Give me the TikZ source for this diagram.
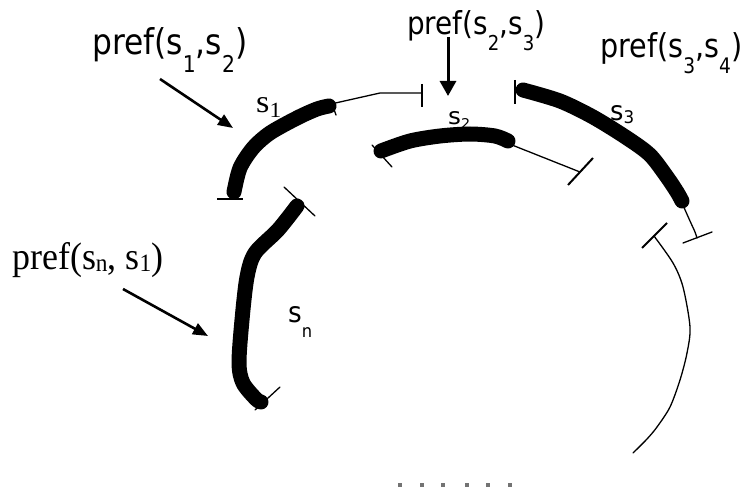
\documentclass[tikz,border=0pt]{standalone}
\usepackage{fontspec}
\setmainfont{Liberation Serif}
\newfontfamily\sansf{DejaVu Sans}
\newfontfamily\serf{Liberation Serif}
\usetikzlibrary{arrows.meta}
\newcommand\lsub[3]{\raisebox{-#1}{\fontsize{#2}{#2}\selectfont #3}}
\begin{document}
\begin{tikzpicture}[x=1pt,y=-1pt,
  segstroke/.style={line width=15pt, line cap=round, line join=round},
  thinline/.style={line width=1.3pt, line cap=round, line join=round},
  barline/.style={line width=2pt},
  pointer/.style={line width=2.6pt, -{Triangle[length=15pt,width=12pt]}},
  lab/.style={inner sep=0pt, anchor=base west}]
\useasboundingbox (0,0) rectangle (747,494);

% labels
\node[lab] (l12) at (92,55) {\resizebox{155pt}{27pt}{\sansf\fontsize{10}{12}\selectfont pref(s\lsub{4.8pt}{6.5}{1},s\lsub{4.8pt}{6.5}{2})}};
\node[lab] (l23) at (407,35) {\resizebox{138pt}{24pt}{\sansf\fontsize{10}{12}\selectfont pref(s\lsub{4.8pt}{6.5}{2},s\lsub{4.8pt}{6.5}{3})}};
\node[lab] (l34) at (600,58) {\resizebox{142pt}{25pt}{\sansf\fontsize{10}{12}\selectfont pref(s\lsub{4.8pt}{6.5}{3},s\lsub{4.8pt}{6.5}{4})}};
\node[lab] (ln1) at (12,270) {\resizebox{151pt}{27pt}{\serf\fontsize{10}{12}\selectfont pref(s\lsub{0.5pt}{6.5}{n}, s\lsub{0.5pt}{6.5}{1})}};

\node[lab] (s1) at (256,113) {\resizebox{25pt}{15pt}{\serf\fontsize{10}{12}\selectfont s\lsub{1.5pt}{6.8}{1}}};
\node[lab] (s2) at (448,125) {\resizebox{22pt}{13pt}{\sansf\fontsize{10}{12}\selectfont s\lsub{1.3pt}{5.8}{2}}};
\node[lab] (s3) at (610,121) {\resizebox{24pt}{15pt}{\sansf\fontsize{10}{12}\selectfont s\lsub{1pt}{6.5}{3}}};
\node[lab] (sn) at (288,323) {\resizebox{24pt}{16pt}{\sansf\fontsize{10}{12}\selectfont s\lsub{5.1pt}{6.2}{n}}};

% pointer arrows
\coordinate (a1s) at (160,79);  \coordinate (a1e) at (233,128);
\coordinate (a2s) at (448,37);  \coordinate (a2e) at (448,96);
\coordinate (a3s) at (123,289); \coordinate (a3e) at (208,336);
\draw[pointer] (a1s) -- (a1e);
\draw[pointer, line width=3pt, -{Triangle[length=15pt,width=16pt]}] (a2s) -- (a2e);
\draw[pointer] (a3s) -- (a3e);

% s1
\draw[segstroke] plot[smooth] coordinates {(234,192) (240,168) (253,148) (270,133) (297,118) (317,109) (329,106)};
\draw[barline] (217,199) -- (243,199);
\draw[thinline] (331,101) -- (336,115);
\draw[thinline] (331,104) -- (380,93) -- (422,93);
\draw[barline] (422,84) -- (422,107);

% s2
\draw[segstroke] plot[smooth] coordinates {(381,151) (410,141) (440,136) (470,134) (495,136) (508,141)};
\draw[thinline] (372,145) -- (392,167);
\draw[thinline] (512,145) -- (580,172);
\draw[barline] (568,185) -- (593,158);

% s3
\draw[barline] (515,80) -- (515,104);
\draw[segstroke] plot[smooth] coordinates {(523,90) (560,101) (593,117) (627,138) (650,155) (667,177) (677,192) (682,201)};
\draw[thinline] plot[smooth] coordinates {(682,203) (690,221) (695,232) (697,238)};
\draw[thinline] (683,243) -- (712,232);

% right arc
\draw[barline] (642,248) -- (667,223);
\draw[thinline] plot[smooth] coordinates {(654,236) (673,263) (683,287) (690,327) (687,353) (680,380) (670,407) (657,427) (647,439) (633,453)};

% sn
\draw[segstroke] plot[smooth] coordinates {(297,206) (278,230) (255,253) (247,277) (242,320) (239,363) (243,383) (256,399) (261,402)};
\draw[thinline] (284,187) -- (315,216);
\draw[thinline] (255,410) -- (280,387);

% dots
\foreach \dx in {400,422,443,467,488,510}
  \fill[black!55] (\dx-2,483) rectangle (\dx+2,487);
\end{tikzpicture}
\end{document}
